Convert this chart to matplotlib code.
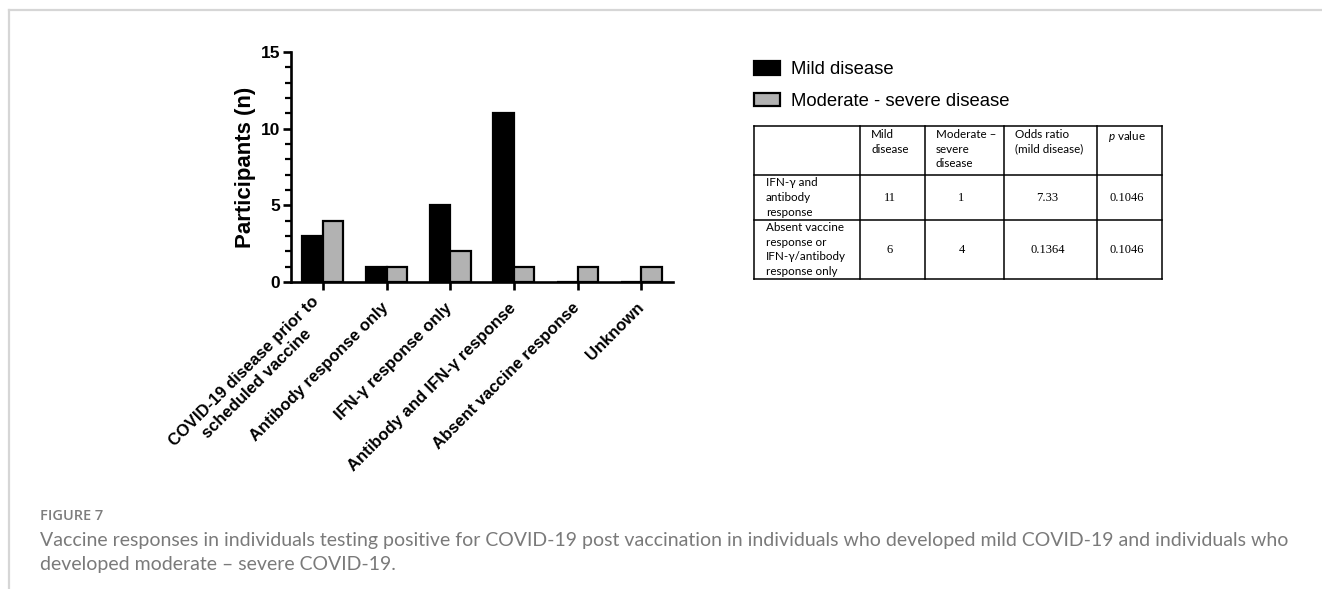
import numpy as np
import matplotlib
matplotlib.use("Agg")
import matplotlib.pyplot as plt
from matplotlib.lines import Line2D
from matplotlib.ticker import MultipleLocator

# ---- data -------------------------------------------------------------
categories = [
    "COVID-19 disease prior to\nscheduled vaccine",
    "Antibody response only",
    "IFN-γ response only",
    "Antibody and IFN-γ response",
    "Absent vaccine response",
    "Unknown",
]
mild = [3, 1, 5, 11, 0, 0]
moderate_severe = [4, 1, 2, 1, 1, 1]
series_labels = ["Mild disease", "Moderate - severe disease"]

y_ticks = [0, 5, 10, 15]

table_header = ["", "Mild\ndisease", "Moderate –\nsevere\ndisease",
                "Odds ratio\n(mild disease)", "$p$ value"]
table_row_labels = ["IFN-γ and\nantibody\nresponse",
                    "Absent vaccine\nresponse or\nIFN-γ/antibody\nresponse only"]
table_mild = ["11", "6"]
table_moderate = ["1", "4"]
table_odds = ["7.33", "0.1364"]
table_p = ["0.1046", "0.1046"]

caption_title = "FIGURE 7"
caption_text = ("Vaccine responses in individuals testing positive for COVID-19 post "
                "vaccination in individuals who developed mild COVID-19 and individuals who\n"
                "developed moderate – severe COVID-19.")

# ---- style ------------------------------------------------------------
plt.rcParams["font.family"] = ["Liberation Sans", "DejaVu Sans"]
plt.rcParams["mathtext.fontset"] = "custom"
plt.rcParams["mathtext.it"] = "Lato:italic"
plt.rcParams["mathtext.rm"] = "Lato"

W, H = 1322, 589
fig = plt.figure(figsize=(W / 100, H / 100), dpi=100)

# frame lines around the panel
fig.add_artist(Line2D([9 / W, 1], [1 - 9.5 / H, 1 - 9.5 / H], color="#d6d6d6", lw=1.6))
fig.add_artist(Line2D([9 / W, 9 / W], [0, 1 - 9.5 / H], color="#d6d6d6", lw=1.6))

# ---- bar chart --------------------------------------------------------
ax = fig.add_axes([291 / W, 1 - 282 / H, 382 / W, 230 / H])
x = np.arange(len(categories))
bw = 0.32
b1 = ax.bar(x - bw / 2, mild, bw, color="black", edgecolor="black", linewidth=1.6)
b2 = ax.bar(x + bw / 2, moderate_severe, bw, color="#b2b2b2", edgecolor="black", linewidth=1.6)

ax.set_xlim(-0.5, 5.5)
ax.set_ylim(0, 15)
for s in ("top", "right"):
    ax.spines[s].set_visible(False)
for s in ("left", "bottom"):
    ax.spines[s].set_linewidth(1.9)
    ax.spines[s].set_zorder(5)

ax.set_yticks(y_ticks)
ax.yaxis.set_minor_locator(MultipleLocator(1))
ax.tick_params(axis="y", which="major", length=6, width=1.9, pad=2, labelsize=12.5)
ax.tick_params(axis="y", which="minor", length=4, width=1.6)
for lab in ax.get_yticklabels():
    lab.set_fontweight("bold")

ax.set_xticks(x)
ax.set_xticklabels(categories, rotation=45, ha="right", va="center",
                   rotation_mode="anchor", fontsize=12, fontweight="bold",
                   multialignment="center")
ax.tick_params(axis="x", which="major", length=6, width=1.9, pad=11)

ax.set_ylabel("Participants (n)", fontsize=16, fontweight="bold", labelpad=3)

# ---- legend -----------------------------------------------------------
fig.legend([b1, b2], series_labels, loc="upper left",
           bbox_to_anchor=(754 / W, 1 - 61 / H), frameon=False, fontsize=13.3,
           handlelength=1.4, handleheight=0.75, handletextpad=0.62,
           labelspacing=0.78, borderpad=0, borderaxespad=0)

# ---- summary table ----------------------------------------------------
col_w = [106, 65, 79, 93, 65]
row_h = [49, 45, 59]
tw, th = sum(col_w), sum(row_h)
tax = fig.add_axes([754 / W, 1 - 279 / H, tw / W, th / H])
tax.set_xlim(0, tw)
tax.set_ylim(th, 0)
tax.axis("off")

xe = np.concatenate([[0], np.cumsum(col_w)])
ye = np.concatenate([[0], np.cumsum(row_h)])
for xv in xe:
    tax.plot([xv, xv], [0, th], color="black", lw=1.1, clip_on=False)
for yv in ye:
    tax.plot([0, tw], [yv, yv], color="black", lw=1.1, clip_on=False)

sans = ["Lato", "DejaVu Sans"]
serif = ["Liberation Serif", "DejaVu Serif"]
for j, txt in enumerate(table_header):
    if txt:
        tax.text(xe[j] + 11, 3, txt, ha="left", va="top", fontsize=8.4,
                 family=sans, linespacing=1.4)

body = [table_mild, table_moderate, table_odds, table_p]
for i, lab in enumerate(table_row_labels):
    yc = (ye[i + 1] + ye[i + 2]) / 2
    tax.text(12, yc, lab, ha="left", va="center", fontsize=8.4,
             family=sans, linespacing=1.4)
    for j, col in enumerate(body):
        xc = (xe[j + 1] + xe[j + 2]) / 2
        tax.text(xc - 3, yc + 1, col[i], ha="center", va="center",
                 fontsize=9, family=serif)

# ---- caption ----------------------------------------------------------
fig.text(40 / W, 1 - 516 / H, caption_title, fontsize=10.5, color="#7d7d7d",
         va="center", ha="left", family=["Open Sans", "DejaVu Sans"],
         fontweight="semibold")
cap = fig.text(40 / W, 1 - 532 / H, caption_text, fontsize=12, color="#7a7a7a",
               va="top", ha="left", family=["Lato", "DejaVu Sans"],
               linespacing=1.5)
# widen the caption so its first line runs across the panel
renderer = fig.canvas.get_renderer()
first_line = fig.text(0, 0, caption_text.split("\n")[0], fontsize=12,
                      family=["Lato", "DejaVu Sans"])
lw_px = first_line.get_window_extent(renderer).width
first_line.remove()
cap.set_fontsize(12 * 1245 / lw_px)

fig.savefig("out.png", dpi=100)
